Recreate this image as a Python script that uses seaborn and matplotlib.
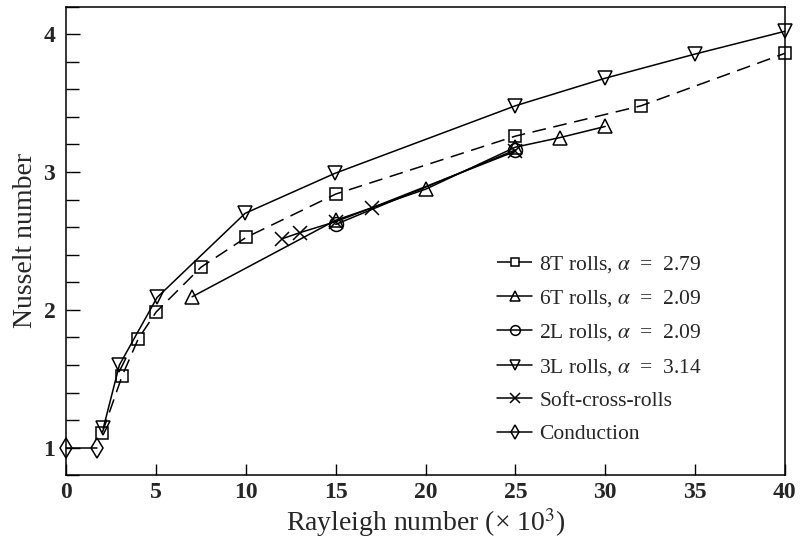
import matplotlib
matplotlib.use("Agg")
import matplotlib.pyplot as plt
import seaborn as sns
import pandas as pd
from matplotlib.ticker import MultipleLocator

sns.set_theme(style="ticks")
plt.rcParams['font.family'] = ['Liberation Serif', 'DejaVu Serif']
plt.rcParams['mathtext.fontset'] = 'stix'

# Data (Rayleigh number x 10^3, Nusselt number)
ra_8t = [2.0, 3.1, 4.0, 5.0, 7.5, 10.0, 15.0, 25.0, 32.0, 40.0]
nu_8t = [1.11, 1.52, 1.79, 1.985, 2.31, 2.525, 2.84, 3.26, 3.48, 3.86]

ra_6t = [7.0, 15.0, 20.0, 25.0, 27.5, 30.0]
nu_6t = [2.095, 2.65, 2.875, 3.18, 3.25, 3.33]

ra_2l = [15.0, 25.0]
nu_2l = [2.62, 3.16]

ra_3l = [2.05, 2.95, 5.05, 9.95, 14.95, 25.0, 30.0, 35.0, 40.0]
nu_3l = [1.14, 1.60, 2.09, 2.70, 2.99, 3.48, 3.68, 3.855, 4.02]

ra_scr = [12.0, 13.0, 15.0, 17.0, 25.0]
nu_scr = [2.515, 2.56, 2.64, 2.74, 3.15]

ra_cond = [0.0, 1.7]
nu_cond = [1.0, 1.0]

labels = [r'8T rolls, $\alpha$  =  2.79', r'6T rolls, $\alpha$  =  2.09',
          r'2L rolls, $\alpha$  =  2.09', r'3L rolls, $\alpha$  =  3.14',
          'Soft-cross-rolls', 'Conduction']

fig = plt.figure(figsize=(8, 5.42), dpi=100)
ax = fig.add_axes([0.083, 0.123, 0.898, 0.865])

series = [
    (ra_8t, nu_8t, 's', (0, (9, 5)), 9),
    (ra_6t, nu_6t, '^', '-', 10),
    (ra_2l, nu_2l, 'o', '-', 10),
    (ra_3l, nu_3l, 'v', '-', 10),
    (ra_scr, nu_scr, 'x', '-', 10),
    (ra_cond, nu_cond, 'd', '-', 10),
]

for (xs, ys, mk, ls, ms), lab in zip(series, labels):
    df = pd.DataFrame({'Ra': xs, 'Nu': ys})
    sns.lineplot(data=df, x='Ra', y='Nu', ax=ax, color='black', sort=False,
                 marker=mk, markersize=ms, markerfacecolor='none',
                 markeredgecolor='black', markeredgewidth=1.1,
                 linewidth=1.1, linestyle=ls, label=lab, clip_on=False)

ax.set_xlim(0, 40)
ax.set_ylim(0.8, 4.2)
ax.xaxis.set_major_locator(MultipleLocator(5))
ax.yaxis.set_minor_locator(MultipleLocator(0.2))
ax.set_yticks([1, 2, 3, 4])
ax.tick_params(axis='both', which='both', direction='in', top=False, right=False,
               color='black', width=1.0)
ax.tick_params(axis='both', which='major', labelsize=17)
ax.tick_params(axis='y', which='major', length=10, pad=8)
ax.tick_params(axis='y', which='minor', length=9)
ax.tick_params(axis='x', which='major', length=8, pad=5)
for lab in ax.get_xticklabels() + ax.get_yticklabels():
    lab.set_fontweight('bold')
for s in ax.spines.values():
    s.set_visible(True)
    s.set_color('black')
    s.set_linewidth(1.1)

ax.set_xlabel('Rayleigh number (\u00d7 10$^3$)', fontsize=20, labelpad=2)
ax.set_ylabel('Nusselt number', fontsize=20, labelpad=4)

leg = ax.legend(loc='lower left', bbox_to_anchor=(0.60, 0.066), frameon=False,
                fontsize=15.5, handlelength=1.6, handletextpad=0.35,
                labelspacing=0.62, borderaxespad=0.0, borderpad=0.0,
                markerscale=0.7)

fig.savefig('out.png', dpi=100)
